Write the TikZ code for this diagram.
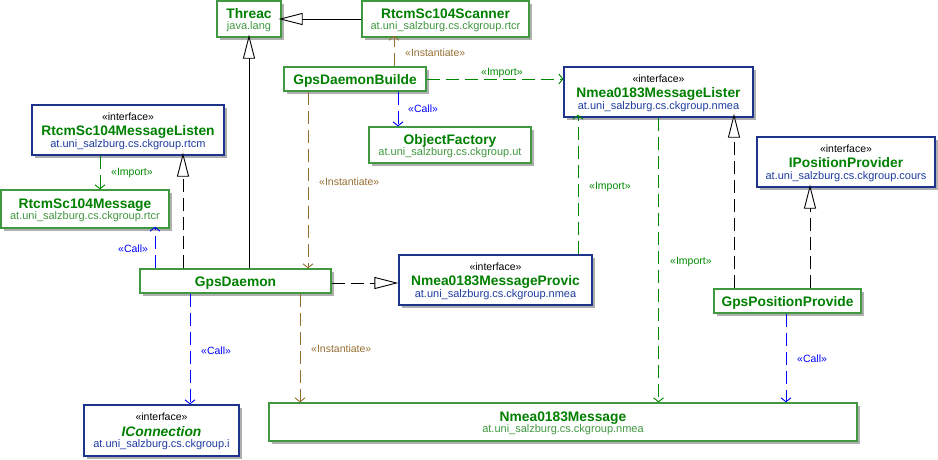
\documentclass[tikz,border=0pt]{standalone}
\usepackage{fontspec}
\setmainfont{Liberation Sans}
\usetikzlibrary{arrows.meta,shadows}
\definecolor{gborder}{RGB}{64,152,64}
\definecolor{bborder}{RGB}{30,52,140}
\definecolor{namegreen}{RGB}{0,128,0}
\definecolor{pkggreen}{RGB}{64,152,64}
\definecolor{pkgblue}{RGB}{30,60,160}
\definecolor{brownc}{RGB}{150,110,50}
\definecolor{callc}{RGB}{0,0,255}
\definecolor{importc}{RGB}{0,136,0}
\definecolor{shadowc}{RGB}{175,175,175}
\tikzset{
  boxbase/.style={draw, fill=white, line width=1.3pt, inner sep=0pt,
    drop shadow={shadow xshift=2.5pt, shadow yshift=-2.5pt, fill=shadowc, opacity=1}},
  gbox/.style={boxbase, draw=gborder},
  bbox/.style={boxbase, draw=bborder},
  cname/.style={inner sep=0pt, anchor=base, text=namegreen, font=\fontsize{13.8}{15}\selectfont\bfseries},
  gpkg/.style={inner sep=0pt, anchor=base, text=pkggreen, font=\fontsize{11}{12}\selectfont},
  bpkg/.style={inner sep=0pt, anchor=base, text=pkgblue, font=\fontsize{11}{12}\selectfont},
  stereo/.style={inner sep=0pt, anchor=base, text=black, font=\fontsize{10.5}{11}\selectfont},
  lbl/.style={inner sep=0pt, anchor=west, font=\fontsize{10.5}{11}\selectfont},
  dep/.style={line width=0.9pt, dash pattern=on 13pt off 6pt, -{Straight Barb[length=4pt,width=10pt]}},
  callline/.style={dep, draw=callc},
  importline/.style={dep, draw=importc},
  instline/.style={dep, draw=brownc},
  realize/.style={line width=0.9pt, draw=black, dash pattern=on 13pt off 6pt,
    -{Triangle[open,length=24pt,width=12pt,fill=white]}},
  general/.style={line width=0.9pt, draw=black, -{Triangle[open,length=24pt,width=12pt,fill=white]}},
}
% id, cx, cy, w, name
\newcommand\boxone[5]{%
  \node[gbox, minimum width=#4pt, minimum height=24pt] (#1) at (#2,#3) {};
  \node[cname] (#1-n) at (#2,#3+5) {#5};}
% id, cx, cy, w, h, name, pkg
\newcommand\boxtwo[7]{%
  \node[gbox, minimum width=#4pt, minimum height=#5pt] (#1) at (#2,#3) {};
  \node[cname] (#1-n) at (#2,#3-1) {#6};
  \node[gpkg] (#1-p) at (#2,#3+10) {#7};}
\newcommand\boxint[7]{%
  \node[bbox, minimum width=#4pt, minimum height=#5pt] (#1) at (#2,#3) {};
  \node[stereo] (#1-s) at (#2,#3-10) {«interface»};
  \node[cname] (#1-n) at (#2,#3+5.5) {#6};
  \node[bpkg] (#1-p) at (#2,#3+17) {#7};}
\begin{document}
\begin{tikzpicture}[x=1pt,y=-1pt]
\useasboundingbox (0,0) rectangle (938,459);
% boxes
\boxtwo{thread}{249}{19}{64}{36}{Threac}{java.lang}
\boxtwo{scanner}{445.5}{19}{167}{36}{RtcmSc104Scanner}{at.uni\_salzburg.cs.ckgroup.rtcr}
\boxone{builder}{355}{79}{142}{GpsDaemonBuilde}
\boxtwo{objfac}{450}{145}{162}{36}{ObjectFactory}{at.uni\_salzburg.cs.ckgroup.ut}
\boxint{lister}{658.5}{92}{189}{50}{Nmea0183MessageLister}{at.uni\_salzburg.cs.ckgroup.nmea}
\boxint{iposprov}{846}{162}{178}{50}{IPositionProvider}{at.uni\_salzburg.cs.ckgroup.cours}
\boxint{rtcmlisten}{128}{130}{192}{50}{RtcmSc104MessageListen}{at.uni\_salzburg.cs.ckgroup.rtcm}
\boxtwo{rtcmmsg}{85}{209}{168}{38}{RtcmSc104Message}{at.uni\_salzburg.cs.ckgroup.rtcr}
\boxone{gpsdaemon}{235.5}{281}{191}{GpsDaemon}
\boxint{provic}{495.5}{280}{193}{50}{Nmea0183MessageProvic}{at.uni\_salzburg.cs.ckgroup.nmea}
\boxone{gpspos}{787.5}{301}{147}{GpsPositionProvide}
\boxint{iconn}{161.5}{430.5}{155}{51}{\itshape IConnection}{at.uni\_salzburg.cs.ckgroup.i}
\boxtwo{nmeamsg}{563}{422}{588}{38}{Nmea0183Message}{at.uni\_salzburg.cs.ckgroup.nmea}
% connectors
\draw[general, shorten >=-3pt] (scanner.west) -- (thread.east);
\draw[general, shorten >=-3pt] (thread.south |- gpsdaemon.north) -- (thread.south);
\coordinate (a1) at ([xshift=39pt]builder.north);
\draw[instline, shorten >=-2pt] (a1) -- (a1 |- scanner.south);
\node[lbl, text=brownc] (l1) at (405,53) {«Instantiate»};
\draw[importline] (builder.east) -- (builder.east -| lister.west);
\node[lbl, text=importc] (l2) at (481,73) {«Import»};
\coordinate (a3) at ([xshift=43pt]builder.south);
\draw[callline] (a3) -- (a3 |- objfac.north);
\node[lbl, text=callc] (l3) at (408,109) {«Call»};
\coordinate (a4) at ([xshift=-47pt]builder.south);
\draw[instline] (a4) -- (a4 |- gpsdaemon.north);
\node[lbl, text=brownc] (l4) at (319,182) {«Instantiate»};
\coordinate (a5) at ([xshift=-28pt]rtcmlisten.south);
\draw[importline] (a5) -- (a5 |- rtcmmsg.north);
\node[lbl, text=importc] (l5) at (111,173) {«Import»};
\coordinate (a6) at ([xshift=-52.5pt]gpsdaemon.north);
\draw[realize, shorten >=-3pt] (a6) -- (a6 |- rtcmlisten.south);
\coordinate (a7) at ([xshift=-80.5pt]gpsdaemon.north);
\draw[callline, shorten >=-2pt] (a7) -- (a7 |- rtcmmsg.south);
\node[lbl, text=callc] (l7) at (118,249) {«Call»};
\coordinate (a8) at ([yshift=-2pt]gpsdaemon.east);
\draw[realize] (a8) -- (a8 -| provic.west);
\coordinate (a9) at ([xshift=82.5pt]provic.north);
\draw[importline, shorten >=-3pt] (a9) -- (a9 |- lister.south);
\node[lbl, text=importc] (l9) at (589,187) {«Import»};
\draw[importline] (lister.south) -- (lister.south |- nmeamsg.north);
\node[lbl, text=importc] (l10) at (670,262) {«Import»};
\coordinate (a11) at ([xshift=-53.5pt]gpspos.north);
\draw[realize, shorten >=-4pt] (a11) -- (a11 |- lister.south);
\coordinate (a12) at ([xshift=22.5pt]gpspos.north);
\draw[realize, shorten >=-3pt] (a12) -- (a12 |- iposprov.south);
\coordinate (a13) at ([xshift=-1.5pt]gpspos.south);
\draw[callline] (a13) -- (a13 |- nmeamsg.north);
\node[lbl, text=callc] (l13) at (797,359) {«Call»};
\coordinate (a14) at ([xshift=-45.5pt]gpsdaemon.south);
\draw[callline] (a14) -- (a14 |- iconn.north);
\node[lbl, text=callc] (l14) at (201,351) {«Call»};
\coordinate (a15) at ([xshift=64.5pt]gpsdaemon.south);
\draw[instline] (a15) -- (a15 |- nmeamsg.north);
\node[lbl, text=brownc] (l15) at (311,349) {«Instantiate»};
\end{tikzpicture}
\end{document}
